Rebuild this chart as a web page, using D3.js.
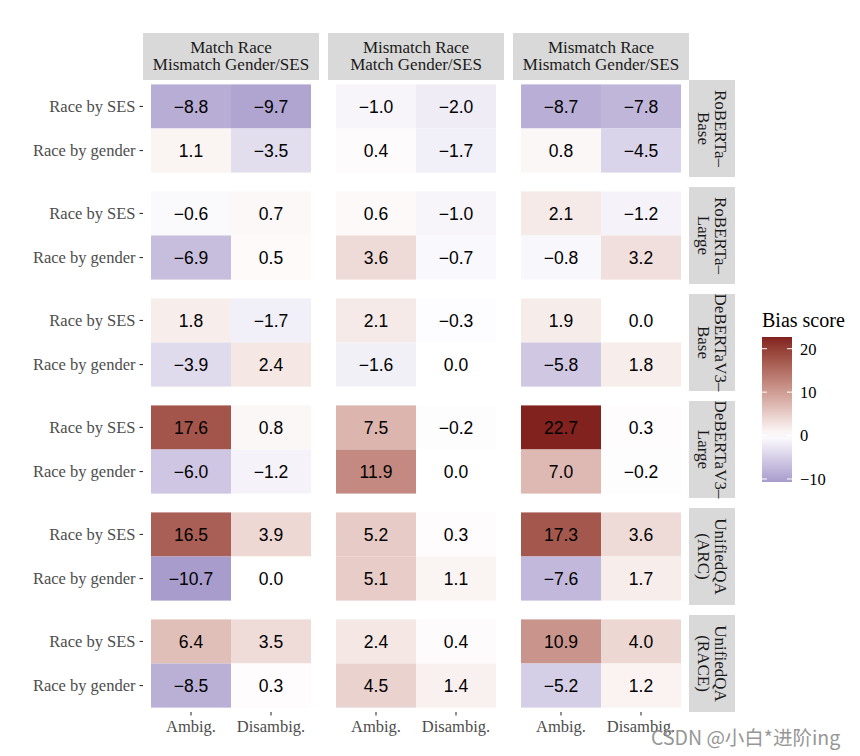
<!DOCTYPE html>
<html>
<head>
<meta charset="utf-8">
<script src="https://cdn.jsdelivr.net/npm/d3@7"></script>
<style>
  html, body { margin: 0; padding: 0; background: #fff; }
  svg { display: block; }
</style>
</head>
<body>
<svg id="chart" width="860" height="756"></svg>
<script>
// ---- data ----
const conditions = [
  ["Match Race", "Mismatch Gender/SES"],
  ["Mismatch Race", "Match Gender/SES"],
  ["Mismatch Race", "Mismatch Gender/SES"]
];
const models = [
  ["RoBERTa–", "Base"],
  ["RoBERTa–", "Large"],
  ["DeBERTaV3–", "Base"],
  ["DeBERTaV3–", "Large"],
  ["UnifiedQA", "(ARC)"],
  ["UnifiedQA", "(RACE)"]
];
const rowCats = ["Race by SES", "Race by gender"];
const colCats = ["Ambig.", "Disambig."];
// values[model][condition] = [SES-Ambig, SES-Disambig, gender-Ambig, gender-Disambig]
const robertaBase     = [[-8.8, -9.7, 1.1, -3.5], [-1.0, -2.0, 0.4, -1.7], [-8.7, -7.8, 0.8, -4.5]];
const robertaLarge    = [[-0.6, 0.7, -6.9, 0.5], [0.6, -1.0, 3.6, -0.7], [2.1, -1.2, -0.8, 3.2]];
const debertaBase     = [[1.8, -1.7, -3.9, 2.4], [2.1, -0.3, -1.6, 0.0], [1.9, 0.0, -5.8, 1.8]];
const debertaLarge    = [[17.6, 0.8, -6.0, -1.2], [7.5, -0.2, 11.9, 0.0], [22.7, 0.3, 7.0, -0.2]];
const unifiedArc      = [[16.5, 3.9, -10.7, 0.0], [5.2, 0.3, 5.1, 1.1], [17.3, 3.6, -7.6, 1.7]];
const unifiedRace     = [[6.4, 3.5, -8.5, 0.3], [2.4, 0.4, 4.5, 1.4], [10.9, 4.0, -5.2, 1.2]];
const values = [robertaBase, robertaLarge, debertaBase, debertaLarge, unifiedArc, unifiedRace];
const legendTicks = [-10, 0, 10, 20];
const legendTitle = "Bias score";

// ---- layout ----
const svg = d3.select("#chart");
const serif = "'Liberation Serif', 'Times New Roman', serif";
const sans = "'Liberation Sans', Arial, sans-serif";

const panelLeft = 143, panelW = 176, colGap = 9;
const stripTop = 33, stripH = 47;
const panelTop = 80, panelH = 97, rowGap = 10;
const rStripW = 46;

const flat = [];
values.forEach((m, mi) => m.forEach((c, ci) => c.forEach((v, k) => {
  flat.push({mi, ci, row: rowCats[Math.floor(k / 2)], col: colCats[k % 2], v});
})));
const vmin = d3.min(flat, d => d.v), vmax = d3.max(flat, d => d.v);

const color = d3.scaleLinear()
  .domain([vmin, 0, vmax])
  .range(["#a89ccc", "#ffffff", "#82221f"])
  .interpolate(d3.interpolateLab);

const fmt = d3.format(".1f");

const colX = d3.scaleBand().domain(d3.range(conditions.length))
  .range([panelLeft, panelLeft + conditions.length * panelW + (conditions.length - 1) * colGap])
  .paddingInner(colGap / (panelW + colGap));
const rowY = d3.scaleBand().domain(d3.range(models.length))
  .range([panelTop, panelTop + models.length * panelH + (models.length - 1) * rowGap])
  .paddingInner(rowGap / (panelH + rowGap));

const rightEdge = colX(conditions.length - 1) + colX.bandwidth();

// top strips
conditions.forEach((lines, ci) => {
  const g = svg.append("g");
  g.append("rect").attr("x", colX(ci)).attr("y", stripTop)
    .attr("width", colX.bandwidth()).attr("height", stripH).attr("fill", "#d9d9d9");
  lines.forEach((t, li) => {
    g.append("text").attr("x", colX(ci) + colX.bandwidth() / 2)
      .attr("y", stripTop + 20 + li * 17)
      .attr("text-anchor", "middle").attr("font-family", serif).attr("font-size", 17)
      .attr("fill", "#1a1a1a").text(t);
  });
});

// right strips
models.forEach((lines, mi) => {
  const g = svg.append("g");
  const y0 = rowY(mi), h = rowY.bandwidth();
  g.append("rect").attr("x", rightEdge).attr("y", y0)
    .attr("width", rStripW).attr("height", h).attr("fill", "#d9d9d9");
  const cx = rightEdge + rStripW / 2, cy = y0 + h / 2;
  lines.forEach((t, li) => {
    const off = (0.5 - li) * 17;
    g.append("text")
      .attr("transform", `translate(${cx + off - 5.5},${cy}) rotate(90)`)
      .attr("text-anchor", "middle").attr("font-family", serif).attr("font-size", 17)
      .attr("fill", "#1a1a1a").text(t);
  });
});

// panels
values.forEach((m, mi) => m.forEach((c, ci) => {
  const x = d3.scaleBand().domain(colCats)
    .range([colX(ci), colX(ci) + colX.bandwidth()]).paddingInner(0).paddingOuter(0.1);
  const y = d3.scaleBand().domain(rowCats)
    .range([rowY(mi), rowY(mi) + rowY.bandwidth()]).paddingInner(0).paddingOuter(0.1);
  const cells = flat.filter(d => d.mi === mi && d.ci === ci);
  const g = svg.append("g");
  g.selectAll("rect").data(cells).join("rect")
    .attr("x", d => x(d.col)).attr("y", d => y(d.row))
    .attr("width", x.bandwidth()).attr("height", y.bandwidth())
    .attr("fill", d => color(d.v));
  g.selectAll("text").data(cells).join("text")
    .attr("x", d => x(d.col) + x.bandwidth() / 2)
    .attr("y", d => y(d.row) + y.bandwidth() / 2)
    .attr("dy", "0.36em")
    .attr("text-anchor", "middle").attr("font-family", sans).attr("font-size", 17.5)
    .attr("fill", "#000").text(d => fmt(d.v));

  // y axis on first column
  if (ci === 0) {
    const ax = svg.append("g").attr("transform", `translate(${colX(0)},0)`)
      .call(d3.axisLeft(y).tickSize(3.5).tickPadding(4));
    ax.select(".domain").remove();
    ax.selectAll("line").attr("stroke", "#333").attr("stroke-width", 1.1);
    ax.selectAll("text").attr("font-family", serif).attr("font-size", 16.5).attr("fill", "#4d4d4d");
  }
  // x axis on last row
  if (mi === models.length - 1) {
    const ax = svg.append("g").attr("transform", `translate(0,${rowY(mi) + rowY.bandwidth()})`)
      .call(d3.axisBottom(x).tickSize(3.5).tickPadding(5));
    ax.select(".domain").remove();
    ax.selectAll("line").attr("stroke", "#333").attr("stroke-width", 1.1);
    ax.selectAll("text").attr("font-family", serif).attr("font-size", 16.5).attr("fill", "#4d4d4d");
  }
}));

// legend
const lg = svg.append("g");
const barX = 762, barW = 30, barTop = 337, barBot = 482;
const ly = d3.scaleLinear().domain([vmin, vmax]).range([barBot, barTop]);
lg.append("text").attr("x", barX).attr("y", barTop - 10)
  .attr("font-family", serif).attr("font-size", 20).attr("fill", "#000").text(legendTitle);
const defs = svg.append("defs");
const grad = defs.append("linearGradient").attr("id", "lgrad")
  .attr("x1", 0).attr("y1", 1).attr("x2", 0).attr("y2", 0);
d3.range(0, 1.0001, 0.05).forEach(t => {
  const v = vmin + t * (vmax - vmin);
  grad.append("stop").attr("offset", t).attr("stop-color", color(v));
});
lg.append("rect").attr("x", barX).attr("y", barTop).attr("width", barW)
  .attr("height", barBot - barTop).attr("fill", "url(#lgrad)");
legendTicks.forEach(t => {
  lg.append("line").attr("x1", barX).attr("x2", barX + 5).attr("y1", ly(t)).attr("y2", ly(t))
    .attr("stroke", "#fff").attr("stroke-width", 1);
  lg.append("line").attr("x1", barX + barW - 5).attr("x2", barX + barW).attr("y1", ly(t)).attr("y2", ly(t))
    .attr("stroke", "#fff").attr("stroke-width", 1);
  lg.append("text").attr("x", barX + barW + 8).attr("y", ly(t)).attr("dy", "0.36em")
    .attr("font-family", serif).attr("font-size", 16.5).attr("fill", "#000")
    .text(t < 0 ? "−" + Math.abs(t) : String(t));
});

// watermark
svg.append("text").attr("x", 651).attr("y", 745)
  .attr("font-family", "'Noto Sans CJK SC', 'Noto Sans', sans-serif").attr("font-size", 19.5)
  .attr("fill", "#8c8c8c").attr("opacity", 0.9).text("CSDN @小白*进阶ing");
</script>
</body>
</html>
